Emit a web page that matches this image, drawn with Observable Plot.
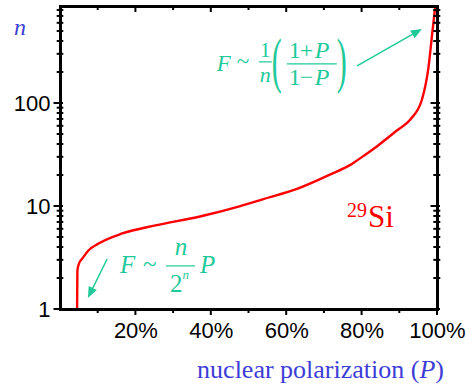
<!DOCTYPE html>
<html><head><meta charset="utf-8">
<script src="https://cdn.jsdelivr.net/npm/d3@7"></script>
<script src="https://cdn.jsdelivr.net/npm/@observablehq/plot@0.6"></script>
<style>
body{margin:0;background:#fff;overflow:hidden}
#chart{position:relative;width:473px;height:387px;overflow:hidden}
#box{position:absolute;left:-60px;top:308px;width:71px;height:120px;border-top:1.5px solid #ff5a28;border-right:1.5px solid #ff5a28}
</style></head><body><div id="chart"><div id="box"></div></div>
<script>
// Curve: number n versus nuclear polarization P (%) for 29Si
const polarization = [4.40, 4.48, 5.0, 5.8, 7.4, 10.1, 16.4, 25.2, 37.0, 47.7, 53.8, 62.9, 71.6, 77.0, 80.4, 84.0, 89.3, 92.8, 95.9, 97.6, 98.6, 99.4, 99.7];
const nValues     = [1, 2.4, 2.85, 3.13, 3.74, 4.37, 5.47, 6.55, 8.0, 10.1, 11.8, 14.9, 20.5, 25.5, 31, 38.5, 55, 70, 110, 223, 478, 874, 1100];

const xMajorTicks = [20, 40, 60, 80, 100];
const xMinorTicks = [10, 30, 50, 70, 90];
const yMajorTicks = [1, 10, 100];
const yMinorTicks = [2,3,4,5,6,7,8,9,20,30,40,50,60,70,80,90,200,300,400,500,600,700,800];

// Annotation anchors in data units [P %, n]
const formulaHighAnchor = [41.6, 205];
const formulaLowAnchor  = [15.9, 2.24];
const arrowHigh = [[78.8, 229], [96.0, 523]];
const arrowLow  = [[12.5, 3.06], [7.4, 1.28]];
const siAnchor  = [76.1, 6.25];

const data = polarization.map((p, i) => ({p, n: nValues[i]}));
const TEAL = "#1fc99a", BLUE = "#3d3dd6", RED = "#ff0000";

function txt(parent, {x = 0, y = 0, size = 20, italic = false, anchor = "start", fill = null, transform = null}, s) {
  const t = parent.append("text").attr("x", x).attr("y", y)
    .attr("font-size", size).attr("text-anchor", anchor)
    .style("font-family", '"Liberation Serif","Times New Roman",serif')
    .style("font-style", italic ? "italic" : "normal");
  if (fill) t.attr("fill", fill);
  if (transform) t.attr("transform", transform);
  t.text(s);
  return t;
}

function ticksMark(index, scales, values, dims) {
  const {x, y} = scales;
  const top = dims.marginTop, bottom = dims.height - dims.marginBottom;
  const left = dims.marginLeft, right = dims.width - dims.marginRight;
  const g = d3.create("svg:g").attr("stroke", "#000").attr("stroke-width", 2);
  const ln = (x1, y1, x2, y2) => g.append("line").attr("x1", x1).attr("y1", y1).attr("x2", x2).attr("y2", y2);
  for (const t of xMajorTicks) { const px = x(t); ln(px, bottom, px, bottom + 6); ln(px, top, px, top + 6); }
  for (const t of xMinorTicks) { const px = x(t); ln(px, bottom, px, bottom + 4); ln(px, top, px, top + 4); }
  for (const t of yMajorTicks) { const py = y(t); ln(left - 6.5, py, left + 3, py); ln(right - 6.5, py, right + 3, py); }
  for (const t of yMinorTicks) { const py = y(t); if (py < top) continue; ln(left - 3.3, py, left + 3.3, py); ln(right - 3.7, py, right + 3.3, py); }
  return g.node();
}

function labelsMark(index, scales, values, dims) {
  const top = dims.marginTop, bottom = dims.height - dims.marginBottom;
  const left = dims.marginLeft, right = dims.width - dims.marginRight;
  const g = d3.create("svg:g");
  txt(g, {x: left - 46, y: top + 29, size: 24, italic: true, fill: BLUE}, "n");
  const t = txt(g, {x: right + 7, y: bottom + 69, size: 26, anchor: "end", fill: BLUE}, "");
  t.append("tspan").text("nuclear polarization (");
  t.append("tspan").style("font-style", "italic").text("P");
  t.append("tspan").text(")");
  return g.node();
}

function annotationsMark(index, scales, values, dims) {
  const {x, y} = scales;
  const g = d3.create("svg:g");
  const arrow = (pts) => {
    const [x1, y1] = [x(pts[0][0]), y(pts[0][1])];
    const [x2, y2] = [x(pts[1][0]), y(pts[1][1])];
    const a = Math.atan2(y2 - y1, x2 - x1), L = 11, W = 4.5;
    const bx = x2 - L * Math.cos(a), by = y2 - L * Math.sin(a);
    g.append("line").attr("x1", x1).attr("y1", y1).attr("x2", bx).attr("y2", by)
      .attr("stroke", TEAL).attr("stroke-width", 1.5);
    const px = -Math.sin(a) * W, py = Math.cos(a) * W;
    g.append("polygon").attr("fill", TEAL)
      .attr("points", `${x2},${y2} ${bx + px},${by + py} ${bx - px},${by - py}`);
  };
  arrow(arrowHigh);
  arrow(arrowLow);

  // High-polarization formula: F ~ (1/n) ((1+P)/(1-P))
  {
    const ox = x(formulaHighAnchor[0]), oy = y(formulaHighAnchor[1]);
    const f = g.append("g").attr("transform", `translate(${ox},${oy})`).attr("fill", TEAL);
    txt(f, {x: 0, y: 0, size: 23, italic: true}, "F");
    txt(f, {x: 20, y: -2, size: 23}, "~");
    txt(f, {x: 48.5, y: -14, size: 21, anchor: "middle"}, "1");
    f.append("line").attr("x1", 42).attr("x2", 55).attr("y1", -9).attr("y2", -9).attr("stroke", TEAL).attr("stroke-width", 1.2);
    txt(f, {x: 48.5, y: 11, size: 22, italic: true, anchor: "middle"}, "n");
    txt(f, {size: 30, transform: "translate(55,10) scale(1,2.05)"}, "(");
    txt(f, {x: 72, y: -13, size: 24}, "1");
    txt(f, {x: 83, y: -13, size: 24}, "+");
    txt(f, {x: 98, y: -13, size: 24, italic: true}, "P");
    f.append("line").attr("x1", 70).attr("x2", 120).attr("y1", -7).attr("y2", -7).attr("stroke", TEAL).attr("stroke-width", 1.2);
    txt(f, {x: 72, y: 14, size: 24}, "1");
    txt(f, {x: 83, y: 14, size: 24}, "\u2212");
    txt(f, {x: 98, y: 14, size: 24, italic: true}, "P");
    txt(f, {size: 30, transform: "translate(120,10) scale(1,2.05)"}, ")");
  }

  // Low-polarization formula: F ~ (n / 2^n) P
  {
    const ox = x(formulaLowAnchor[0]), oy = y(formulaLowAnchor[1]);
    const f = g.append("g").attr("transform", `translate(${ox},${oy})`).attr("fill", TEAL);
    txt(f, {x: 0, y: 0, size: 25, italic: true}, "F");
    txt(f, {x: 23, y: -1, size: 25}, "~");
    txt(f, {x: 61, y: -18, size: 25, italic: true, anchor: "middle"}, "n");
    f.append("line").attr("x1", 46).attr("x2", 75).attr("y1", -7).attr("y2", -7).attr("stroke", TEAL).attr("stroke-width", 1.2);
    txt(f, {x: 50, y: 19, size: 25}, "2");
    txt(f, {x: 62.5, y: 6, size: 13, italic: true}, "n");
    txt(f, {x: 80, y: 0, size: 25, italic: true}, "P");
  }

  // 29Si label
  {
    const ox = x(siAnchor[0]), oy = y(siAnchor[1]);
    const s = g.append("g").attr("transform", `translate(${ox},${oy})`).attr("fill", RED);
    txt(s, {x: 0, y: -10, size: 20}, "29");
    txt(s, {x: 21, y: 0, size: 31}, "Si");
  }
  return g.node();
}

const chart = Plot.plot({
  width: 473,
  height: 387,
  marginTop: 6,
  marginBottom: 78,
  marginLeft: 60,
  marginRight: 36,
  style: {fontFamily: "Liberation Sans, Arial, sans-serif", fontSize: "22px", color: "#000", background: "white", overflow: "visible"},
  x: {domain: [0, 100]},
  y: {type: "log", domain: [1, 874]},
  marks: [
    Plot.line(data, {x: "p", y: "n", stroke: RED, strokeWidth: 2.4, curve: "monotone-x", clip: true}),
    Plot.frame({stroke: "#000", strokeWidth: 3}),
    ticksMark,
    Plot.axisX({ticks: xMajorTicks, tickFormat: d => d + "%", tickSize: 0, tickPadding: 13, fontSize: 22, label: null, fill: "#000"}),
    Plot.axisY({ticks: yMajorTicks, tickFormat: d => String(d), tickSize: 0, tickPadding: 10, fontSize: 22, label: null, fill: "#000"}),
    labelsMark,
    annotationsMark
  ]
});
document.getElementById("chart").appendChild(chart);
chart.style.position = "absolute";
chart.style.left = "0";
chart.style.top = "0";
</script>
</body></html>
